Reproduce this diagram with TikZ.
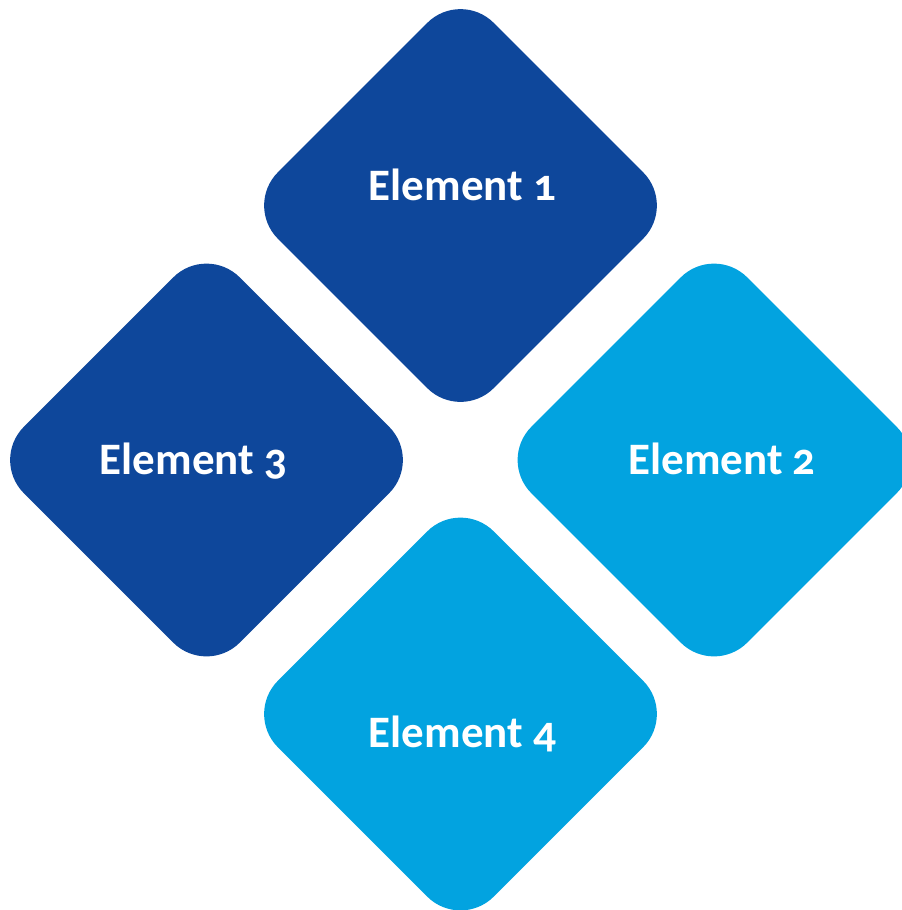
\documentclass[tikz,border=0pt]{standalone}
\usepackage{fontspec}
\setmainfont{Carlito}[Numbers=OldStyle]
\usetikzlibrary{shapes.geometric}

\definecolor{darkblue}{RGB}{14,71,155}
\definecolor{lightblue}{RGB}{2,163,224}

\begin{document}
\begin{tikzpicture}[
  tile/.style={diamond, aspect=1, inner sep=0pt, minimum size=8.64cm,
    rounded corners=0.94cm},
  lbl/.style={anchor=base, text=white, font=\fontsize{25.6}{30}\selectfont\bfseries}]

\useasboundingbox (0,0) rectangle (18.04,-18.2);
\clip (0,0) rectangle (18.04,-18.2);

\node[tile, fill=darkblue] (el1) at (9.21,-4.11) {};
\node[tile, fill=lightblue] (el2) at (14.28,-9.2) {};
\node[tile, fill=darkblue] (el3) at (4.13,-9.2) {};
\node[tile, fill=lightblue] (el4) at (9.21,-14.28) {};

\node[lbl] (t1) at (9.25,-4.0) {Element 1};
\node[lbl] (t2) at (14.44,-9.48) {Element 2};
\node[lbl] (t3) at (3.87,-9.48) {Element 3};
\node[lbl] (t4) at (9.25,-14.94) {Element 4};

\end{tikzpicture}
\end{document}
